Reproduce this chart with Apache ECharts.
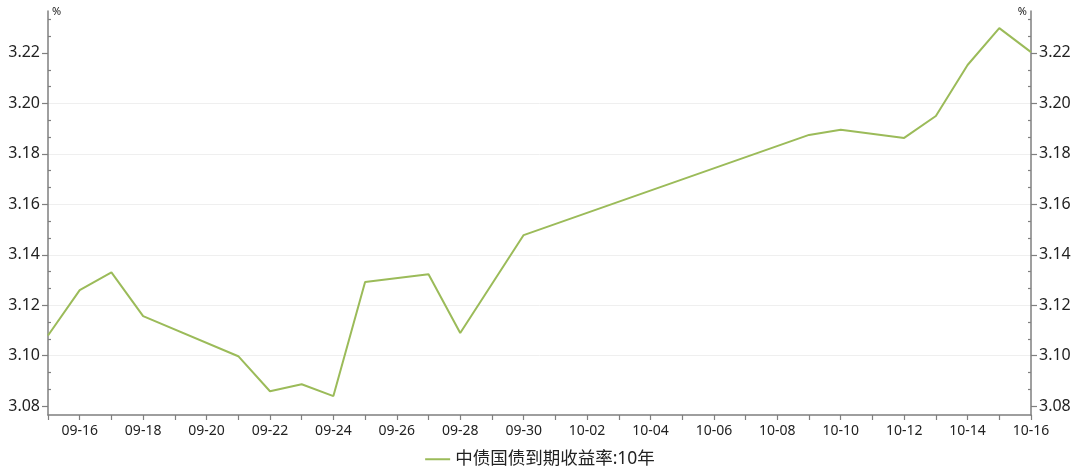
<!DOCTYPE html>
<html>
<head>
<meta charset="utf-8">
<script src="https://cdn.jsdelivr.net/npm/echarts@6/dist/echarts.min.js"></script>
<style>
html,body{margin:0;padding:0;background:#fff;}
#chart{width:1080px;height:475px;}
</style>
</head>
<body>
<div id="chart"></div>
<script>
// Categories: every calendar day 09-15 .. 10-16
const dates = ['09-15','09-16','09-17','09-18','09-19','09-20','09-21','09-22','09-23','09-24','09-25','09-26','09-27','09-28','09-29','09-30',
  '10-01','10-02','10-03','10-04','10-05','10-06','10-07','10-08','10-09','10-10','10-11','10-12','10-13','10-14','10-15','10-16'];
// 中债国债到期收益率:10年 (%), null = no trading day
const yields = [3.1080,3.1260,3.1330,3.1157,null,null,3.0998,3.0859,3.0887,3.0840,3.1292,null,3.1323,3.1090,3.1284,3.1478,
  null,null,null,null,null,null,null,null,3.1875,3.1895,null,3.1863,3.1950,3.2152,3.2298,3.2203];
const seriesName = '中债国债到期收益率:10年';
// Y tick labels (major) and minor tick positions
const yTicks = [3.08, 3.10, 3.12, 3.14, 3.16, 3.18, 3.20, 3.22];
const yMinorTicks = [3.0867, 3.0933, 3.1067, 3.1133, 3.1267, 3.1333, 3.1467, 3.1533, 3.1667, 3.1733,
  3.1867, 3.1933, 3.2067, 3.2133, 3.2267, 3.2333];
const yMin = 3.0765, yMax = 3.2366;

const chart = echarts.init(document.getElementById('chart'));
const font = '"Noto Sans", "Noto Sans CJK SC", sans-serif';
const axisGray = '#7f7f7f';
function yAxisCfg(pos) {
  return {
    type: 'value', position: pos, min: yMin, max: yMax, splitNumber: 8,
    name: '%', nameLocation: 'end', nameGap: 0,
    nameTextStyle: { fontSize: 11, color: '#222', fontFamily: font, align: pos === 'left' ? 'left' : 'right', verticalAlign: 'bottom', padding: pos === 'left' ? [0,0,-6,4] : [0,4,-6,0] },
    axisLine: { show: true, lineStyle: { color: axisGray, width: 1.5 } },
    axisTick: { show: true, length: 6, customValues: yTicks, lineStyle: { color: axisGray, width: 1.2 } },
    minorTick: { show: false },
    axisLabel: { margin: 8, fontSize: 16, color: '#222', fontFamily: font, customValues: yTicks,
      formatter: v => v.toFixed(2) },
    splitLine: { show: pos === 'left', showMinLine: false, showMaxLine: false, lineStyle: { color: '#efefef', width: 1 } }
  };
}
function yMinorAxisCfg(pos) {
  return {
    type: 'value', position: pos, min: yMin, max: yMax, splitNumber: 8,
    axisLine: { show: false },
    axisTick: { show: true, inside: true, length: 3, customValues: yMinorTicks, lineStyle: { color: axisGray, width: 1.2 } },
    axisLabel: { show: false },
    splitLine: { show: false }
  };
}
chart.setOption({
  animation: false,
  backgroundColor: '#fff',
  grid: { left: 48, right: 49, top: 11, bottom: 60, containLabel: false },
  legend: { bottom: 2, left: 'center', itemWidth: 25, itemHeight: 10, itemGap: 8,
    icon: 'path://M0,0 L25,0 L25,2 L0,2 Z',
    textStyle: { fontSize: 17.5, color: '#222', fontFamily: font }, data: [seriesName] },
  xAxis: {
    type: 'category', data: dates, boundaryGap: false,
    axisLine: { lineStyle: { color: axisGray, width: 1.5 } },
    axisTick: { show: true, interval: 0, length: 5, lineStyle: { color: axisGray, width: 1.2 } },
    axisLabel: { interval: (i) => i % 2 === 1, margin: 9, fontSize: 14, color: '#222', fontFamily: font },
    splitLine: { show: false }
  },
  yAxis: [yAxisCfg('left'), yAxisCfg('right'), yMinorAxisCfg('left'), yMinorAxisCfg('right')],
  series: [{
    name: seriesName, type: 'line', data: yields, connectNulls: true, yAxisIndex: 0,
    showSymbol: false, symbol: 'none',
    lineStyle: { color: '#9bbb59', width: 2 }, itemStyle: { color: '#9bbb59' }
  }]
});
</script>
</body>
</html>
